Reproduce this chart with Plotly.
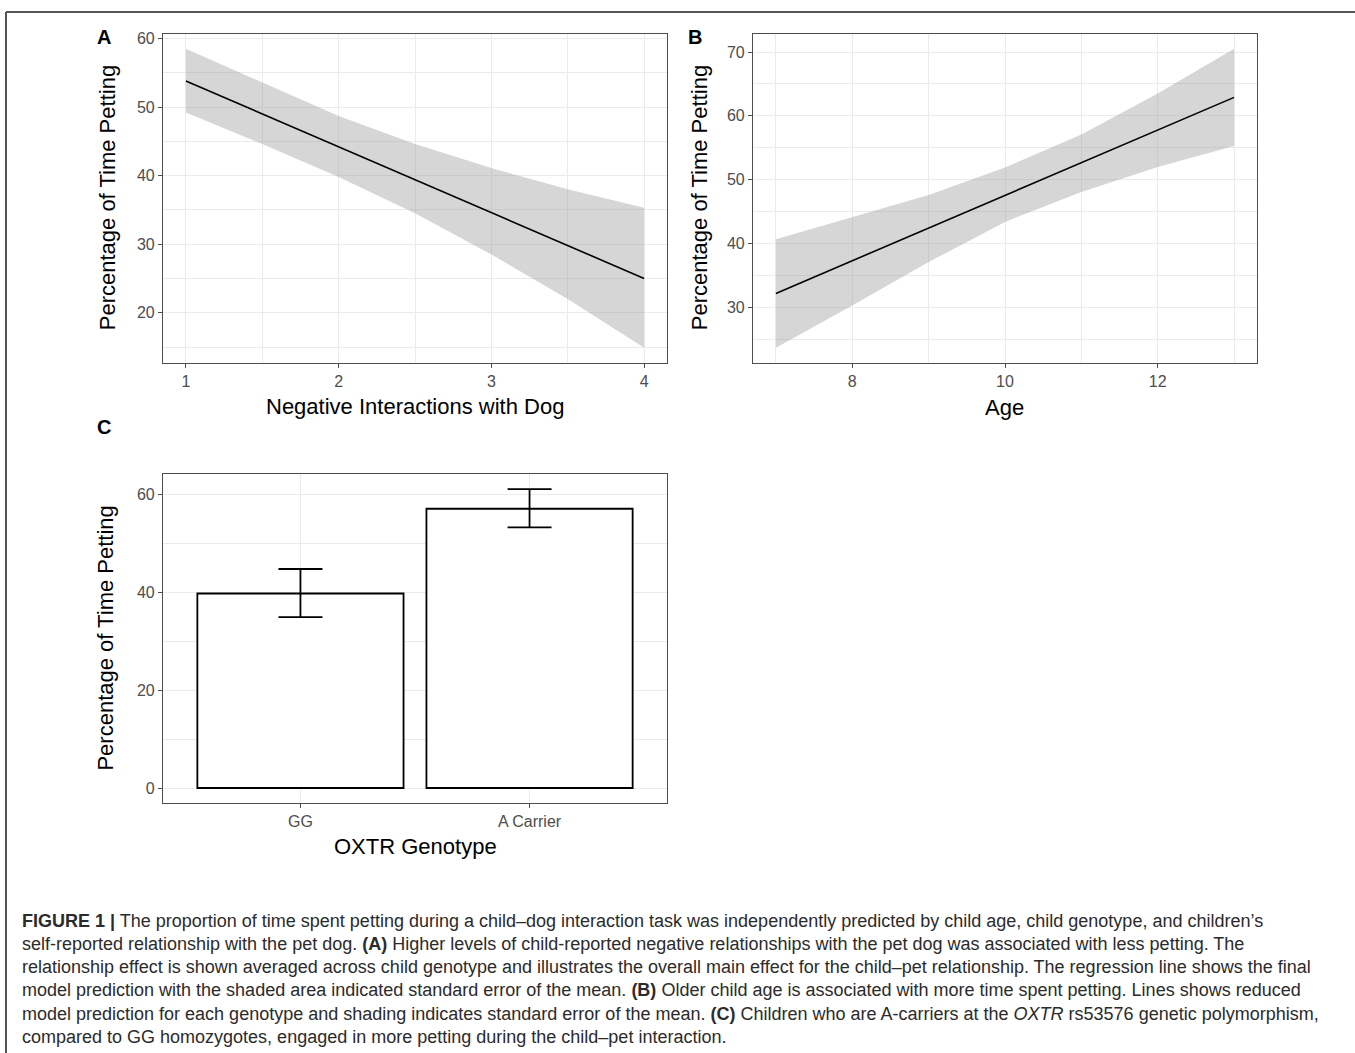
import plotly.graph_objects as go

# ---------------- data ----------------
# Panel A: negative interactions with dog
negint_x = [1, 1.5, 2, 2.5, 3, 3.5, 4]
negint_fit = [53.8, 49.0, 44.2, 39.4, 34.6, 29.8, 25.0]
negint_upper = [58.5, 53.6, 48.7, 44.6, 41.1, 38.0, 35.3]
negint_lower = [49.2, 44.6, 39.8, 34.5, 28.5, 22.0, 14.9]

# Panel B: age
age_x = [7, 8, 9, 10, 11, 12, 13]
age_fit = [32.2, 37.3, 42.4, 47.6, 52.7, 57.8, 62.9]
age_upper = [40.7, 44.2, 47.6, 51.9, 57.1, 63.5, 70.5]
age_lower = [23.7, 30.3, 37.1, 43.4, 48.1, 52.0, 55.3]

# Panel C: genotype
genotype = ["GG", "A Carrier"]
pct_mean = [39.7, 57.0]
pct_upper = [44.7, 61.0]
pct_lower = [34.9, 53.2]

x_ticks_a = [1, 2, 3, 4]
y_ticks_a = [20, 30, 40, 50, 60]
x_ticks_b = [8, 10, 12]
y_ticks_b = [30, 40, 50, 60, 70]
y_ticks_c = [0, 20, 40, 60]

caption_lines = [
    "<b>FIGURE 1 |</b> The proportion of time spent petting during a child–dog interaction task was independently predicted by child age, child genotype, and children’s",
    "self-reported relationship with the pet dog. <b>(A)</b> Higher levels of child-reported negative relationships with the pet dog was associated with less petting. The",
    "relationship effect is shown averaged across child genotype and illustrates the overall main effect for the child–pet relationship. The regression line shows the final",
    "model prediction with the shaded area indicated standard error of the mean. <b>(B)</b> Older child age is associated with more time spent petting. Lines shows reduced",
    "model prediction for each genotype and shading indicates standard error of the mean. <b>(C)</b> Children who are A-carriers at the <i>OXTR</i> rs53576 genetic polymorphism,",
    "compared to GG homozygotes, engaged in more petting during the child–pet interaction.",
]

# ---------------- layout helpers ----------------
W, H = 1355, 1053
FONT = "Liberation Sans, Arial, Helvetica, sans-serif"
GRID = "#EBEBEB"
BORDER = "#4D4D4D"
TICKC = "#4D4D4D"


def px_x(p):
    return p / W


def px_y(p):
    return 1 - p / H


def expand(lo, hi, f=0.05):
    d = (hi - lo) * f
    return [lo - d, hi + d]


fig = go.Figure()

ribbon_fill = "rgba(153,153,153,0.4)"

# Panel A
fig.add_trace(go.Scatter(
    x=negint_x + negint_x[::-1], y=negint_upper + negint_lower[::-1],
    fill="toself", fillcolor=ribbon_fill, line=dict(width=0), mode="lines",
    hoverinfo="skip", showlegend=False, xaxis="x", yaxis="y"))
fig.add_trace(go.Scatter(
    x=negint_x, y=negint_fit, mode="lines", line=dict(color="black", width=1.6),
    showlegend=False, xaxis="x", yaxis="y"))

# Panel B
fig.add_trace(go.Scatter(
    x=age_x + age_x[::-1], y=age_upper + age_lower[::-1],
    fill="toself", fillcolor=ribbon_fill, line=dict(width=0), mode="lines",
    hoverinfo="skip", showlegend=False, xaxis="x2", yaxis="y2"))
fig.add_trace(go.Scatter(
    x=age_x, y=age_fit, mode="lines", line=dict(color="black", width=1.6),
    showlegend=False, xaxis="x2", yaxis="y2"))

# Panel C
fig.add_trace(go.Bar(
    x=genotype, y=pct_mean, width=0.9,
    marker=dict(color="white", line=dict(color="black", width=1.8)),
    error_y=dict(type="data", symmetric=False,
                 array=[u - m for u, m in zip(pct_upper, pct_mean)],
                 arrayminus=[m - l for m, l in zip(pct_mean, pct_lower)],
                 color="black", thickness=1.8, width=22),
    showlegend=False, xaxis="x3", yaxis="y3"))

common = dict(
    showline=True, mirror=True, linecolor=BORDER, linewidth=1.2,
    ticks="outside", ticklen=4, tickcolor=BORDER, tickwidth=1.1,
    showgrid=True, gridcolor=GRID, gridwidth=1.2, zeroline=False,
    tickfont=dict(family=FONT, size=16, color=TICKC),
)

minor_style = dict(showgrid=True, gridcolor=GRID, gridwidth=0.6, ticklen=0)

dom_ax = [px_x(163), px_x(667)]
dom_bx = [px_x(753), px_x(1257)]
dom_top = [px_y(360), px_y(30)]
dom_c = [px_y(802), px_y(472)]

fig.update_layout(
    width=W, height=H, margin=dict(l=0, r=0, t=0, b=0),
    paper_bgcolor="white", plot_bgcolor="white",
    font=dict(family=FONT),
    xaxis=dict(domain=dom_ax, anchor="y",
               range=expand(min(negint_x), max(negint_x)),
               tickvals=x_ticks_a, minor=dict(dtick=0.5, tick0=0, **minor_style), **common),
    yaxis=dict(domain=dom_top, anchor="x",
               range=expand(min(negint_lower), max(negint_upper)),
               tickvals=y_ticks_a, minor=dict(dtick=5, tick0=0, **minor_style), **common),
    xaxis2=dict(domain=dom_bx, anchor="y2",
                range=expand(min(age_x), max(age_x)),
                tickvals=x_ticks_b, minor=dict(dtick=1, tick0=0, **minor_style), **common),
    yaxis2=dict(domain=dom_top, anchor="x2",
                range=expand(min(age_lower), max(age_upper)),
                tickvals=y_ticks_b, minor=dict(dtick=5, tick0=0, **minor_style), **common),
    xaxis3=dict(domain=dom_ax, anchor="y3", range=[-0.6, 1.6],
                type="category", **common),
    yaxis3=dict(domain=dom_c, anchor="x3",
                range=expand(0, max(pct_upper)),
                tickvals=y_ticks_c, minor=dict(dtick=10, tick0=0, **minor_style), **common),
)

ann = []
title_font = dict(family=FONT, size=22, color="black")


def add_title(text, x, y, angle=0):
    ann.append(dict(text=text, x=px_x(x), y=px_y(y), xref="paper", yref="paper",
                    showarrow=False, textangle=angle, font=title_font,
                    xanchor="center", yanchor="middle"))


add_title("Percentage of Time Petting", 107, 195, -90)
add_title("Percentage of Time Petting", 699, 195, -90)
add_title("Percentage of Time Petting", 106, 637, -90)
add_title("Negative Interactions with Dog", 415, 404)
add_title("Age", 1005, 405)
add_title("OXTR Genotype", 415, 846)

for lab, x, y in [("A", 104, 33), ("B", 695, 33), ("C", 104, 425)]:
    ann.append(dict(text="<b>%s</b>" % lab, x=px_x(x), y=px_y(y), xref="paper", yref="paper",
                    showarrow=False, font=dict(family=FONT, size=20, color="black"),
                    xanchor="center", yanchor="middle"))

cap_y0, cap_dy = 920, 23.4
for i, line in enumerate(caption_lines):
    ann.append(dict(text=line, x=px_x(20), y=px_y(cap_y0 + i * cap_dy), xref="paper", yref="paper",
                    showarrow=False, font=dict(family=FONT, size=18, color="#2B2B2B"),
                    xanchor="left", yanchor="middle", align="left"))

fig.update_layout(annotations=ann)

# outer frame (top and left rules)
fig.add_shape(type="line", xref="paper", yref="paper", x0=px_x(6), x1=1, y0=px_y(8), y1=px_y(8),
              line=dict(color="#555555", width=2))
fig.add_shape(type="line", xref="paper", yref="paper", x0=px_x(6), x1=px_x(6), y0=0, y1=px_y(8),
              line=dict(color="#555555", width=2))

fig.write_html(
    "out.html",
    config={"displayModeBar": False},
    post_script="document.body.style.margin='0px';document.documentElement.style.overflow='hidden';",
)
